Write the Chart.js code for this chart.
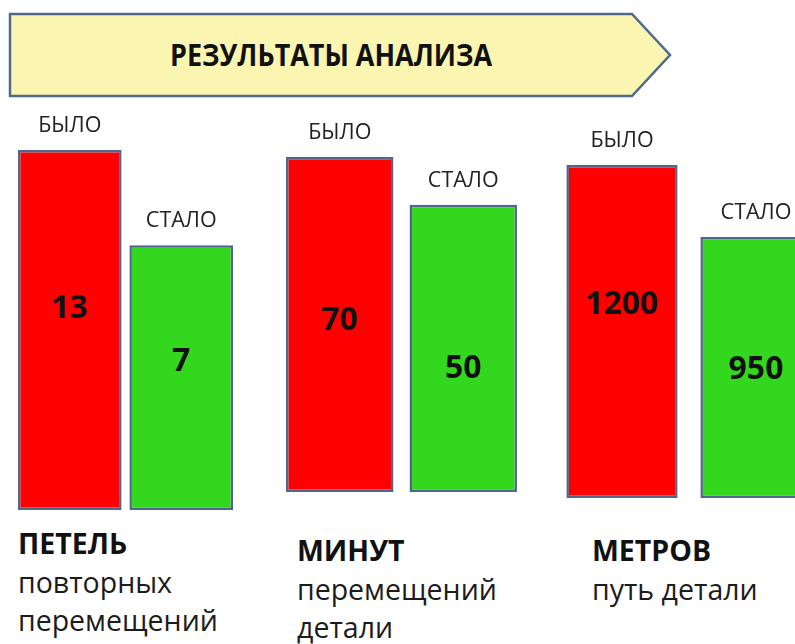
<!DOCTYPE html>
<html lang="ru">
<head>
  <meta charset="UTF-8">
  <title>Результаты анализа</title>
  <script src="https://cdn.jsdelivr.net/npm/chart.js"></script>
  <style>
    body {
      margin: 0;
      width: 795px;
      height: 644px;
      overflow: hidden;
      position: relative;
      background: #fff;
      font-family: "Open Sans", "Noto Sans", sans-serif;
      color: #1c1c1c;
    }
    #banner { position: absolute; left: 0; top: 0; }
    canvas { position: absolute; top: 100px; }
    .caption {
      position: absolute;
      font-size: 28.5px;
      line-height: 38.5px;
      white-space: nowrap;
    }
    .caption b { display: block; color: #111; }
  </style>
</head>
<body>
  <!-- заголовок-стрелка -->
  <svg id="banner" width="795" height="110">
    <polygon points="10,14 632,14 670,55 632,96 10,96" fill="#faf5b0" stroke="#4f6a8c" stroke-width="2.5"/>
    <text x="331" y="66" text-anchor="middle" font-family="Open Sans" font-weight="bold" font-size="31"
          textLength="322" lengthAdjust="spacingAndGlyphs" fill="#111">РЕЗУЛЬТАТЫ АНАЛИЗА</text>
  </svg>

  <canvas id="c0"></canvas>
  <canvas id="c1"></canvas>
  <canvas id="c2"></canvas>

  <div id="captions"></div>

  <script>
    // данные
    const groups = ['ПЕТЕЛЬ', 'МИНУТ', 'МЕТРОВ'];
    const groupNotes = [['повторных', 'перемещений'], ['перемещений', 'детали'], ['путь детали']];
    const phases = ['БЫЛО', 'СТАЛО'];
    const before = [13, 70, 1200];
    const after = [7, 50, 950];

    // у каждой группы своя шкала (столбцы на слайде не в масштабе)
    const scaleMin = [-9.7, -70, 44];

    // размещение холстов и подписей
    const boxes = [
      { left: 14, width: 223, padTop: 50, padBottom: 10, barPct: 0.93 },
      { left: 278, width: 247, padTop: 57, padBottom: 28, barPct: 0.87 },
      { left: 555, width: 268, padTop: 65, padBottom: 22, barPct: 0.83 }
    ];
    // где стоит число внутри столбца (доля высоты от верха)
    const numberAt = [[0.44, 0.44], [0.49, 0.57], [0.42, 0.51]];
    const captionPos = [
      { left: 18, top: 524 },
      { left: 297, top: 531 },
      { left: 592, top: 531 }
    ];

    const barText = {
      id: 'barText',
      afterDatasetsDraw(chart) {
        const ctx = chart.ctx;
        const ds = chart.data.datasets[0];
        const g = chart.options.groupIndex;
        ctx.save();
        ctx.textAlign = 'center';
        chart.getDatasetMeta(0).data.forEach((bar, i) => {
          ctx.fillStyle = '#111';
          ctx.font = 'bold 32px "Open Sans"';
          ctx.textBaseline = 'middle';
          ctx.fillText(ds.data[i], bar.x, bar.y + (bar.base - bar.y) * numberAt[g][i]);
          ctx.fillStyle = '#222';
          ctx.font = '21.5px "Open Sans"';
          ctx.textBaseline = 'alphabetic';
          ctx.fillText(chart.data.labels[i], bar.x, bar.y - 18);
        });
        ctx.restore();
      }
    };

    groups.forEach((name, g) => {
      const box = boxes[g];
      const canvas = document.getElementById('c' + g);
      canvas.width = box.width;
      canvas.height = 420;
      canvas.style.left = box.left + 'px';

      new Chart(canvas, {
        type: 'bar',
        data: {
          labels: phases,
          datasets: [{
            label: name,
            data: [before[g], after[g]],
            base: scaleMin[g],
            backgroundColor: ['#ff0000', '#33d71e'],
            borderColor: '#4f6790',
            borderWidth: 2.5,
            borderSkipped: false,
            barPercentage: box.barPct,
            categoryPercentage: 1
          }]
        },
        options: {
          groupIndex: g,
          responsive: false,
          animation: false,
          layout: { padding: { top: box.padTop, bottom: box.padBottom, left: 0, right: 0 } },
          plugins: { legend: { display: false }, tooltip: { enabled: false } },
          scales: {
            x: { display: false },
            y: { display: false, min: scaleMin[g], max: before[g] }
          }
        },
        plugins: [barText]
      });

      const cap = document.createElement('div');
      cap.className = 'caption';
      cap.style.left = captionPos[g].left + 'px';
      cap.style.top = captionPos[g].top + 'px';
      cap.innerHTML = '<b>' + name + '</b>' + groupNotes[g].join('<br>');
      document.getElementById('captions').appendChild(cap);
    });
  </script>
</body>
</html>
